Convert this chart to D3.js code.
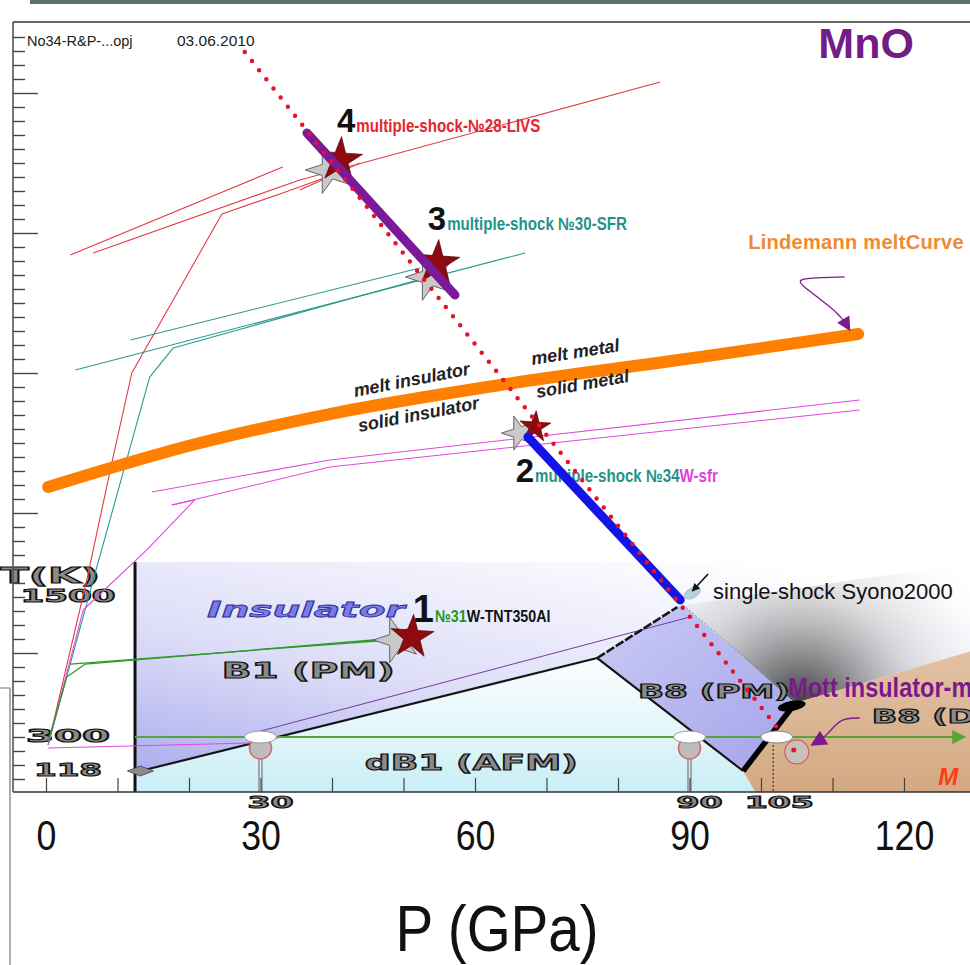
<!DOCTYPE html>
<html>
<head>
<meta charset="utf-8">
<script src="https://cdn.jsdelivr.net/npm/d3@7"></script>
<style>
  body { margin: 0; background: #fff; }
  svg { display: block; }
</style>
</head>
<body>
<div id="chart"></div>
<script>
// ---- data (pressure GPa, temperature K) ----
const pTicks = [0, 30, 60, 90, 120];

const meltCurve = [[0.3, 2186], [21.5, 2500], [39.7, 2707], [63.5, 2914], [91.5, 3114], [113.6, 3279]];

// multiple-shock paths
const redPaths = [
  [[0.3, 343], [5.7, 1521], [9.2, 2357], [12.0, 3000], [24.6, 4136], [33.1, 4286], [39.7, 4407]],
  [[3.4, 3843], [33.1, 4471]],
  [[6.6, 3857], [35.5, 4379], [85.9, 5079]],
  [[35.5, 4307], [43.9, 4500]]
];
const tealPaths = [
  [[0.3, 343], [6.6, 1521], [14.5, 2971], [17.8, 3179], [25.3, 3286], [53.0, 3679]],
  [[4.1, 3021], [67.0, 3857]],
  [[11.8, 3236], [52.3, 3750]]
];
const magentaPaths = [
  [[0.3, 343], [5.2, 1307], [14.1, 1736], [20.8, 2093], [17.6, 2057]],
  [[14.8, 2150], [39.7, 2379], [113.8, 2807]],
  [[17.6, 2057], [39.7, 2329], [113.8, 2736]],
  [[0.3, 321], [28.5, 357]]
];
const greenPaths = [
  [[0.3, 364], [2.9, 829], [5.5, 921], [49.1, 1107]],
  [[3.4, 921], [48.1, 1093]]
];

const hugoniotDots = [[27.8, 5293], [102.2, 471]];
const purpleSeg = [[36.5, 4714], [57.2, 3557]];
const blueSeg = [[67.4, 2543], [88.7, 1379]];
const singleShockTail = [[89.1, 1343], [104.8, 664]];

const stars = [
  {n: "4", gray: [39.7, 4450], red: [41.1, 4521]},
  {n: "3", gray: [53.7, 3686], red: [54.7, 3786]},
  {n: "2", gray: [66.2, 2571], red: [68.4, 2614]},
  {n: "1", gray: [49.1, 1093], red: [51.2, 1114]}
];

const shotLabels = [
  {n: "4", at: [40.7, 4721], parts: [["multiple-shock-№28-LIVS", "#e3262e"]]},
  {n: "3", at: [53.4, 4021], parts: [["multiple-shock №30-SFR", "#1f9488"]]},
  {n: "2", at: [65.7, 2221], parts: [["multiple-shock №34", "#1f9488"], ["W-sfr", "#e23ee0"]]},
  {n: "1", at: [51.3, 1221], parts: [["№31", "#1a9a22"], ["W-TNT350Al", "#111"]]}
];

const meltLabels = [
  {text: "melt insulator", at: [43.2, 2829], rot: -11},
  {text: "solid insulator", at: [43.8, 2579], rot: -11},
  {text: "melt metal", at: [68.0, 3057], rot: -9},
  {text: "solid metal", at: [68.7, 2821], rot: -10}
];

const lindemannArrow = [[111.7, 3686], [105.0, 3679], [105.5, 3629], [111.0, 3429], [112.4, 3307]];
const syonoArrow = [[92.6, 1564], [90.4, 1443]];

// ---- inset phase diagram (its own temperature axis) ----
const insetTLabels = [{t: 1500, text: "1500", len: 95}, {t: 300, text: "300", len: 84}, {t: 118, text: "118", len: 68}];
const insetPLabels = [{p: 30, text: "30"}, {p: 90, text: "90"}, {p: 102, text: "105"}]; // 105 sits where the source puts it
const pinP = [30, 90];
const neelPoint = [13.2, 118];
const b1dB1 = [[13.2, 118], [77.1, 977]];
const b1b8 = [[77.1, 977], [88.3, 1414]];
const b1b8Thin = [[28.5, 326], [90.1, 1329]];
const dB1b8 = [[77.1, 977], [97.5, 118]];
const b8Metal = [[97.5, 118], [104.8, 591]];
const isotherm = [[12.45, 300], [128.5, 300]];
const dB1Region = [[12.45, 6], [12.45, 118], [13.2, 118], [77.1, 977], [97.5, 118], [100.5, 6]];
const b8pmRegion = [[77.1, 977], [88.3, 1414], [89.1, 1430], [104.8, 591], [97.5, 118]];
const metalRegion = [[97.5, 118], [104.8, 591], [130, 1046], [130, 6], [99.2, 6]];
const shadeRegion = [[89.1, 1430], [130, 1800], [130, 1046], [104.8, 591]];
const mottArrow = [[113.8, 463], [111.0, 463], [109.4, 317], [107.1, 257]];
const mottPoint = [105.0, 220];
const mark105 = [102.2, 300];
const metalCap = [104.3, 566];

// ---- scales ----
const W = 970, H = 965;
const x = d3.scaleLinear().domain([0, 130]).range([46, 975.5]);
const y = d3.scaleLinear().domain([0, 5000]).range([793, 93]);
const iy = d3.scaleLinear().domain([118, 300, 1500, 1800]).range([771, 737, 597, 562]);

const svg = d3.select("#chart").append("svg").attr("width", W).attr("height", H);
const defs = svg.append("defs");

function linGrad(id, x1, y1, x2, y2, stops) {
  const g = defs.append("linearGradient").attr("id", id)
    .attr("x1", x1).attr("y1", y1).attr("x2", x2).attr("y2", y2);
  stops.forEach(s => g.append("stop").attr("offset", s[0]).attr("stop-color", s[1])
    .attr("stop-opacity", s[2] === undefined ? 1 : s[2]));
}
linGrad("insetBg", 0, 1, 0.75, 0, [[0, "#a6a6ec"], [0.45, "#dcdcf8"], [1, "#ffffff"]]);
linGrad("dB1Grad", 0, 0, 0, 1, [[0, "#fbfdfe"], [0.55, "#e3f6fa"], [1, "#c8eef5"]]);
linGrad("b8Grad", 0, 0, 1, 1, [[0, "#cacaf6"], [1, "#a4a4ea"]]);
linGrad("tanGrad", 0, 0, 0, 1, [[0, "#e2c2a4"], [1, "#d3a983"]]);
linGrad("topEdge", 0, 0, 1, 0, [[0, "#444"], [0.85, "#666"], [1, "#fff"]]);
const rg = defs.append("radialGradient").attr("id", "shade").attr("gradientUnits", "userSpaceOnUse")
  .attr("cx", 800).attr("cy", 708).attr("r", 230);
[[0, "#2e2e2e", 0.95], [0.2, "#666", 0.8], [0.5, "#b4b4b4", 0.45], [0.8, "#e8e8e8", 0.15], [1, "#ffffff", 0]]
  .forEach(s => rg.append("stop").attr("offset", s[0]).attr("stop-color", s[1]).attr("stop-opacity", s[2]));

function marker(id, color, w, h) {
  defs.append("marker").attr("id", id).attr("viewBox", "0 0 10 10")
    .attr("refX", 9).attr("refY", 5).attr("markerUnits", "userSpaceOnUse")
    .attr("markerWidth", w).attr("markerHeight", h).attr("orient", "auto")
    .append("path").attr("d", "M0,0L10,5L0,10z").attr("fill", color);
}
marker("arrGreen", "#55a53a", 24, 14);
marker("arrPurple", "#7a1a8a", 16, 14);
marker("arrMott", "#7a1a8a", 18, 16);
marker("arrBlack", "#111", 10, 8);

const lineMain = d3.line().x(d => x(d[0])).y(d => y(d[1]));
const lineInset = d3.line().x(d => x(d[0])).y(d => iy(d[1]));

// top bar and frame
svg.append("rect").attr("x", 30).attr("y", 0).attr("width", W - 30).attr("height", 4).attr("fill", "#5b7272");
svg.append("line").attr("x1", 13).attr("x2", W).attr("y1", 22).attr("y2", 22).attr("stroke", "#666").attr("stroke-width", 2);
svg.append("path").attr("d", "M0,688H10V965").attr("fill", "none").attr("stroke", "#777").attr("stroke-width", 1.2);

// ---- inset backgrounds ----
const ib = {left: x(12.45), top: iy(1800), right: W, bottom: iy(6)};
const inset = svg.append("g");
inset.append("rect").attr("x", ib.left).attr("y", ib.top)
  .attr("width", ib.right - ib.left).attr("height", ib.bottom - ib.top).attr("fill", "url(#insetBg)");
inset.append("path").attr("d", lineInset(dB1Region) + "Z").attr("fill", "url(#dB1Grad)");
inset.append("path").attr("d", lineInset(b8pmRegion) + "Z").attr("fill", "url(#b8Grad)");
inset.append("path").attr("d", lineInset(shadeRegion) + "Z").attr("fill", "url(#shade)");
inset.append("path").attr("d", lineInset(metalRegion) + "Z").attr("fill", "url(#tanGrad)");

inset.append("line").attr("x1", ib.left).attr("x2", ib.right).attr("y1", ib.top).attr("y2", ib.top)
  .attr("stroke", "url(#topEdge)").attr("stroke-width", 1.5);
inset.append("line").attr("x1", ib.left).attr("x2", ib.left).attr("y1", ib.top).attr("y2", ib.bottom)
  .attr("stroke", "#111").attr("stroke-width", 3);

// phase boundaries
inset.append("path").attr("d", lineInset(b1dB1)).attr("stroke", "#151515").attr("stroke-width", 2.2).attr("fill", "none");
inset.append("path").attr("d", lineInset(b1b8Thin)).attr("stroke", "#7a3a9a").attr("stroke-width", 1).attr("fill", "none");
inset.append("path").attr("d", lineInset(b1b8)).attr("stroke", "#151515").attr("stroke-width", 2.6)
  .attr("stroke-dasharray", "9 2").attr("fill", "none");
inset.append("path").attr("d", lineInset(dB1b8)).attr("stroke", "#151515").attr("stroke-width", 2.2).attr("fill", "none");
inset.append("path").attr("d", lineInset(b8Metal)).attr("stroke", "#000").attr("stroke-width", 5.5).attr("fill", "none");
inset.append("ellipse").attr("cx", x(metalCap[0])).attr("cy", iy(metalCap[1])).attr("rx", 14).attr("ry", 5)
  .attr("transform", `rotate(-10,${x(metalCap[0])},${iy(metalCap[1])})`).attr("fill", "#000");

// 300 K isotherm
inset.append("path").attr("d", lineInset(isotherm)).attr("stroke", "#55a53a").attr("stroke-width", 2.2)
  .attr("fill", "none").attr("marker-end", "url(#arrGreen)");

// pins at 30 and 90 GPa
pinP.forEach(p => {
  const cx = x(p), cy = iy(241);
  inset.append("line").attr("x1", cx - 1.5).attr("x2", cx - 1.5).attr("y1", cy).attr("y2", ib.bottom).attr("stroke", "#777").attr("stroke-width", 1.2);
  inset.append("line").attr("x1", cx + 1.5).attr("x2", cx + 1.5).attr("y1", cy).attr("y2", ib.bottom).attr("stroke", "#777").attr("stroke-width", 1.2);
  inset.append("circle").attr("cx", cx).attr("cy", cy).attr("r", 11).attr("fill", "#bdbdbd")
    .attr("stroke", "#cf6a6a").attr("stroke-width", 1.5);
  inset.append("ellipse").attr("cx", cx).attr("cy", iy(300)).attr("rx", 16).attr("ry", 6)
    .attr("fill", "#fff").attr("stroke", "#999").attr("stroke-width", 1);
});
// 105 GPa mark
inset.append("line").attr("x1", x(101.7)).attr("x2", x(101.7)).attr("y1", iy(300)).attr("y2", ib.bottom)
  .attr("stroke", "#333").attr("stroke-width", 1.2).attr("stroke-dasharray", "2 2");
inset.append("ellipse").attr("cx", x(mark105[0])).attr("cy", iy(mark105[1])).attr("rx", 16).attr("ry", 6)
  .attr("fill", "#fff").attr("stroke", "#888").attr("stroke-width", 1);
inset.append("circle").attr("cx", x(mottPoint[0])).attr("cy", iy(mottPoint[1])).attr("r", 12)
  .attr("fill", "#c4c4c4").attr("fill-opacity", 0.8).attr("stroke", "#d06060").attr("stroke-width", 1.2);
inset.append("circle").attr("cx", x(mottPoint[0]) - 3).attr("cy", iy(mottPoint[1]) - 2).attr("r", 2.5).attr("fill", "#e8102a");

// Neel point diamond
inset.append("path").attr("transform", `translate(${x(neelPoint[0])},${iy(neelPoint[1])})`)
  .attr("d", "M-13,0L0,-5L13,0L0,5Z").attr("fill", "#8a8a8a").attr("stroke", "#444").attr("stroke-width", 0.8);

// inset bottom axis
svg.append("line").attr("x1", 13).attr("x2", W).attr("y1", ib.bottom).attr("y2", ib.bottom).attr("stroke", "#333").attr("stroke-width", 1.5);
const iax = svg.append("g").attr("transform", `translate(0,${ib.bottom})`)
  .call(d3.axisTop(x).tickValues(d3.range(0, 130, 10)).tickSize(14).tickFormat(""));
iax.select(".domain").remove();
iax.selectAll("line").attr("stroke", "#444").attr("stroke-width", 1.2);

// inset texts (wide outlined lettering)
const wideFont = "'DejaVu Sans', sans-serif";
function wideText(txt, px, py, len, size, anchor) {
  return svg.append("text").attr("x", px).attr("y", py).text(txt)
    .attr("text-anchor", anchor || "start")
    .attr("textLength", len).attr("lengthAdjust", "spacingAndGlyphs")
    .attr("font-family", wideFont).attr("font-weight", "bold").attr("font-size", size)
    .attr("fill", "#8a8a8a").attr("stroke", "#111").attr("stroke-width", 1.1);
}
wideText("T(K)", 0, 583, 100, 22);
insetTLabels.forEach(d => wideText(d.text, 68, iy(d.t) + 5, d.len, 18, "middle"));
insetPLabels.forEach(d => wideText(d.text, x(d.p) + (d.text.length > 2 ? 4 : 10), 808, d.text.length * 23, 16, "middle"));
wideText("B1 (PM)", x(24.6), iy(806), 173, 22);
wideText("dB1 (AFM)", x(44.6), iy(123), 213, 22);
wideText("B8 (PM)", x(82.8), iy(634), 152, 19);
wideText("B8 (DM)", x(115.5), iy(420), 152, 19);
svg.append("text").attr("x", x(22.5)).attr("y", iy(1329)).text("Insulator")
  .attr("textLength", 198).attr("lengthAdjust", "spacingAndGlyphs")
  .attr("font-family", wideFont).attr("font-style", "italic").attr("font-weight", "bold").attr("font-size", 22)
  .attr("fill", "#7b7be8").attr("stroke", "#2f2f9a").attr("stroke-width", 0.8);

// condensed text: the narrow face is not installed, so squeeze the regular one
const sans = "'Liberation Sans', Arial, sans-serif";
function narrowText(px, py, txt, size, opts) {
  const o = opts || {};
  const t = svg.append("text").attr("transform", `translate(${px},${py}) scale(${o.sx || 0.84},1)`)
    .attr("font-family", sans).attr("font-size", size).attr("font-weight", o.weight || "normal")
    .attr("text-anchor", o.anchor || "start").attr("fill", o.fill || "#111");
  if (txt) t.text(txt);
  return t;
}
narrowText(x(103.8), iy(643), "Mott insulator-metal", 28, {weight: "bold", fill: "#7a1a8a"});
svg.append("text").attr("x", x(124.8)).attr("y", iy(43)).text("M")
  .attr("font-family", sans).attr("font-style", "italic").attr("font-weight", "bold")
  .attr("font-size", 24).attr("fill", "#ff3d12");
svg.append("path").attr("d", d3.line().curve(d3.curveBasis).x(d => x(d[0])).y(d => iy(d[1]))(mottArrow))
  .attr("fill", "none").attr("stroke", "#7a1a8a").attr("stroke-width", 1.3).attr("marker-end", "url(#arrMott)");

// ---- main chart marks ----
const main = svg.append("g");
function thin(paths, color, w) {
  paths.forEach(p => main.append("path").attr("d", lineMain(p)).attr("fill", "none")
    .attr("stroke", color).attr("stroke-width", w).attr("stroke-linejoin", "round"));
}
thin(redPaths, "#e23a44", 1.1);
thin(tealPaths, "#2a9a8c", 1.1);
thin(magentaPaths, "#e048dc", 1.1);
thin(greenPaths, "#2f9a2a", 1.3);

main.append("path").attr("d", lineMain.curve(d3.curveMonotoneX)(meltCurve)).attr("fill", "none")
  .attr("stroke", "#ff8000").attr("stroke-width", 12).attr("stroke-linecap", "round");
lineMain.curve(d3.curveLinear);

main.append("path").attr("d", lineMain(singleShockTail)).attr("fill", "none")
  .attr("stroke", "#5e9ec0").attr("stroke-width", 1).attr("stroke-dasharray", "2 2");

// stars
const starSizes = [620, 620, 300, 580];
stars.forEach((s, i) => {
  main.append("path").attr("d", d3.symbol().type(d3.symbolStar).size(starSizes[i] + 60)())
    .attr("transform", `translate(${x(s.gray[0])},${y(s.gray[1])}) rotate(-18)`)
    .attr("fill", "#c9c9c9").attr("stroke", "#555").attr("stroke-width", 0.8);
  main.append("path").attr("d", d3.symbol().type(d3.symbolStar).size(starSizes[i])())
    .attr("transform", `translate(${x(s.red[0])},${y(s.red[1])}) rotate(4)`)
    .attr("fill", "#8c0a10").attr("stroke", "#4a0000").attr("stroke-width", 0.6);
});

// ---- texts ----
shotLabels.forEach(l => {
  const px = x(l.at[0]), py = y(l.at[1]);
  const num = svg.append("text").attr("x", px).attr("y", py).text(l.n)
    .attr("font-family", sans).attr("font-weight", "bold")
    .attr("font-size", l.n === "1" ? 38 : 33).attr("fill", "#111");
  const w = num.node().getComputedTextLength();
  const t = narrowText(px + w + 1, py, null, l.n === "1" ? 17 : 18, {weight: "bold"});
  l.parts.forEach(p => t.append("tspan").text(p[0]).attr("fill", p[1]));
});

// thick Hugoniot segments sit over the labels, as in the source
const overlay = svg.append("g");
overlay.append("path").attr("d", lineMain(purpleSeg)).attr("stroke", "#7a1a9a").attr("stroke-width", 9)
  .attr("stroke-linecap", "round").attr("fill", "none");
overlay.append("path").attr("d", lineMain(blueSeg)).attr("stroke", "#1414e6").attr("stroke-width", 9)
  .attr("stroke-linecap", "round").attr("fill", "none");
overlay.append("path").attr("d", lineMain(hugoniotDots)).attr("stroke", "#e8102a").attr("stroke-width", 4.5)
  .attr("stroke-linecap", "round").attr("stroke-dasharray", "0 11.6").attr("fill", "none");

// single-shock marker
overlay.append("ellipse").attr("cx", x(syonoArrow[1][0])).attr("cy", y(syonoArrow[1][1]) + 2)
  .attr("rx", 9).attr("ry", 5).attr("fill", "#b9d1dc").attr("stroke", "#8aa").attr("stroke-width", 0.5)
  .attr("transform", `rotate(-30,${x(syonoArrow[1][0])},${y(syonoArrow[1][1]) + 2})`);
overlay.append("path").attr("d", lineMain(syonoArrow)).attr("stroke", "#111").attr("stroke-width", 1.6)
  .attr("fill", "none").attr("marker-end", "url(#arrBlack)");

// Lindemann annotation arrow
overlay.append("path").attr("d", d3.line().curve(d3.curveBasis).x(d => x(d[0])).y(d => y(d[1]))(lindemannArrow))
  .attr("fill", "none").attr("stroke", "#7a1a8a").attr("stroke-width", 1.3).attr("marker-end", "url(#arrPurple)");

meltLabels.forEach(l => {
  svg.append("text").attr("transform", `translate(${x(l.at[0])},${y(l.at[1])}) rotate(${l.rot})`)
    .text(l.text).attr("font-family", sans).attr("font-style", "italic").attr("font-weight", "bold")
    .attr("font-size", 18).attr("fill", "#222");
});

svg.append("text").attr("x", x(93.3)).attr("y", y(1386)).text("single-shock Syono2000")
  .attr("font-family", sans).attr("font-size", 22).attr("fill", "#111");
svg.append("text").attr("x", x(98.2)).attr("y", y(3886)).text("Lindemann meltCurve")
  .attr("font-family", sans).attr("font-weight", "bold").attr("font-size", 20)
  .attr("letter-spacing", 0.3).attr("fill", "#ef8a33");
svg.append("text").attr("x", x(114.7)).attr("y", y(5250)).attr("text-anchor", "middle").text("MnO")
  .attr("font-family", sans).attr("font-weight", "bold").attr("font-size", 43).attr("fill", "#731d84");

svg.append("text").attr("x", 27).attr("y", 46).text("No34-R&P-...opj")
  .attr("font-family", sans).attr("font-size", 14.5).attr("fill", "#222");
svg.append("text").attr("x", 177).attr("y", 46).text("03.06.2010")
  .attr("font-family", sans).attr("font-size", 15.5).attr("fill", "#222");

// ---- axes ----
svg.append("line").attr("x1", 13).attr("x2", 13).attr("y1", 22).attr("y2", ib.bottom)
  .attr("stroke", "#555").attr("stroke-width", 1.6);
const minorT = d3.range(100, 5500, 100).filter(v => v % 1000 !== 0);
const yMinor = svg.append("g").attr("transform", "translate(13,0)")
  .call(d3.axisRight(y).tickValues(minorT).tickSize(12).tickFormat(""));
const yMajor = svg.append("g").attr("transform", "translate(13,0)")
  .call(d3.axisRight(y).tickValues(d3.range(1000, 5001, 1000)).tickSize(25).tickFormat(""));
[yMinor, yMajor].forEach(g => {
  g.select(".domain").remove();
  g.selectAll("line").attr("stroke", "#444").attr("stroke-width", 1.4);
});

const xAxis = svg.append("g").attr("transform", "translate(0,818)")
  .call(d3.axisBottom(x).tickValues(pTicks).tickSize(0).tickPadding(2));
xAxis.select(".domain").remove();
xAxis.selectAll("text").attr("font-family", sans).attr("font-size", 42).attr("fill", "#111")
  .attr("transform", "scale(0.85,1)");

narrowText(497, 951, "P (GPa)", 65, {sx: 0.87, anchor: "middle"});
</script>
</body>
</html>
